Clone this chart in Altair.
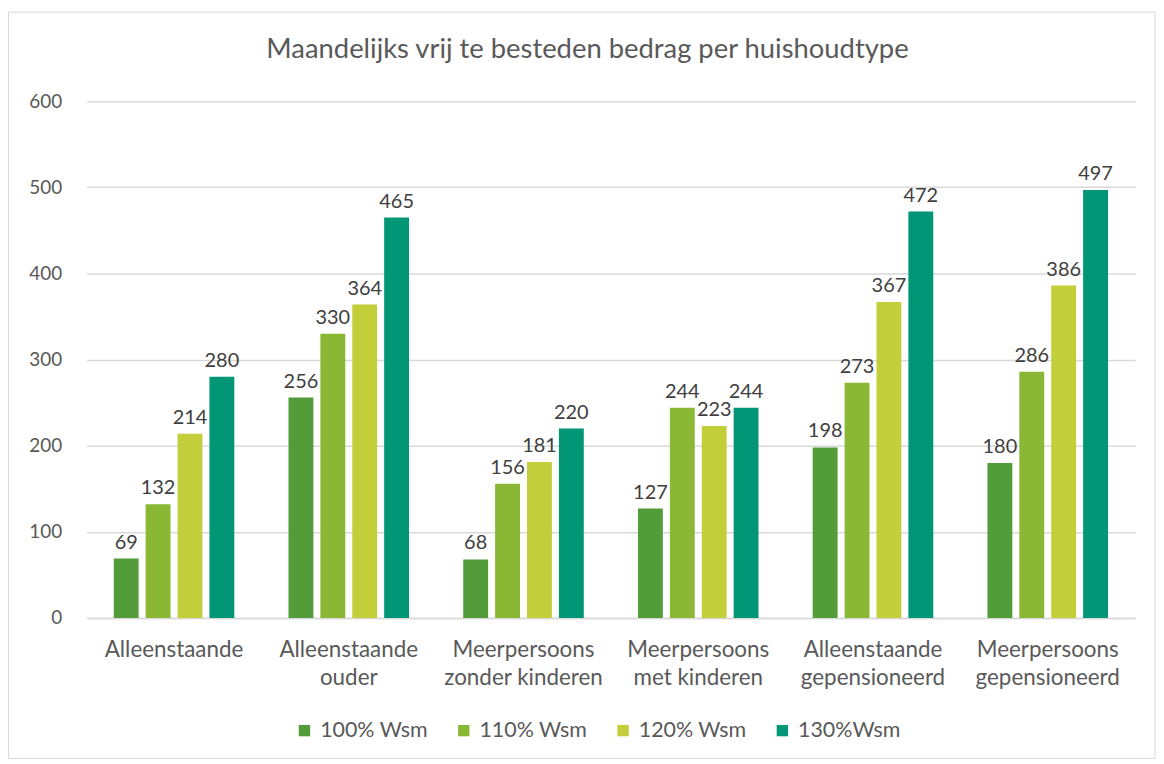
import altair as alt
import pandas as pd

categories = ["Alleenstaande", "Alleenstaande|ouder", "Meerpersoons|zonder kinderen",
              "Meerpersoons|met kinderen", "Alleenstaande|gepensioneerd", "Meerpersoons|gepensioneerd"]
series = ["100% Wsm", "110% Wsm", "120% Wsm", "130%Wsm"]
v100 = [69, 256, 68, 127, 198, 180]
v110 = [132, 330, 156, 244, 273, 286]
v120 = [214, 364, 181, 223, 367, 386]
v130 = [280, 465, 220, 244, 472, 497]
colors = ["#529D39", "#8AB734", "#C2CF3B", "#009676"]
title_text = "Maandelijks vrij te besteden bedrag per huishoudtype"

rows = []
for s, vals in zip(series, [v100, v110, v120, v130]):
    for c, v in zip(categories, vals):
        rows.append({"cat": c, "serie": s, "value": v})
df = pd.DataFrame(rows)

FONT = "Lato"
GRAY = "#595959"

x = alt.X("cat:N", sort=categories, title=None,
          scale=alt.Scale(paddingInner=0.27, paddingOuter=0.135),
          axis=alt.Axis(labelExpr="split(datum.label, '|')", labelAngle=0, labelFontSize=22.5,
                        labelColor=GRAY, labelFont=FONT, labelPadding=21, labelLineHeight=28,
                        ticks=False, domainColor="#D9D9D9", domainWidth=1.5, labelBaseline="top"))
xo = alt.XOffset("serie:N", sort=series, scale=alt.Scale(paddingInner=0.22, paddingOuter=0.11))
y = alt.Y("value:Q", title=None, scale=alt.Scale(domain=[0, 600]),
          axis=alt.Axis(values=[0, 100, 200, 300, 400, 500, 600], ticks=False, domain=False,
                        gridColor="#D9D9D9", gridWidth=1.5, labelFontSize=19, labelColor=GRAY,
                        labelFont=FONT, labelPadding=25))
color = alt.Color("serie:N", sort=series, scale=alt.Scale(domain=series, range=colors),
                  legend=alt.Legend(title=None, orient="none", direction="horizontal",
                                    legendX=208, legendY=621, symbolType="square", symbolSize=130,
                                    symbolStrokeWidth=0, labelFontSize=21.5, labelColor=GRAY,
                                    labelFont=FONT, columnPadding=25, labelOffset=5))

bars = alt.Chart(df).mark_bar().encode(x=x, xOffset=xo, y=y, color=color)
labels = alt.Chart(df).mark_text(dy=-16, fontSize=20, font=FONT, color="#404040").encode(
    x=alt.X("cat:N", sort=categories), xOffset=alt.XOffset("serie:N", sort=series),
    y="value:Q", text="value:Q")

one = pd.DataFrame({"t": [title_text]})
border = alt.Chart(one).mark_rect(fill="white", fillOpacity=0, stroke="#D9D9D9", strokeWidth=1).encode(
    x=alt.value(-78.5), x2=alt.value(1073), y=alt.value(-89.5), y2=alt.value(660))
title = alt.Chart(one).mark_text(fontSize=27.5, font=FONT, color=GRAY, baseline="middle").encode(
    x=alt.value(503), y=alt.value(-51), text="t:N")

chart = alt.layer(border, bars, labels, title).properties(
    width=1053, height=519,
    autosize=alt.AutoSizeParams(type="none"),
    padding={"left": 79, "top": 92, "right": 21, "bottom": 142},
).configure(background="white").configure_view(stroke=None)

chart.save("out.html", embed_options={"renderer": "svg", "actions": False})
